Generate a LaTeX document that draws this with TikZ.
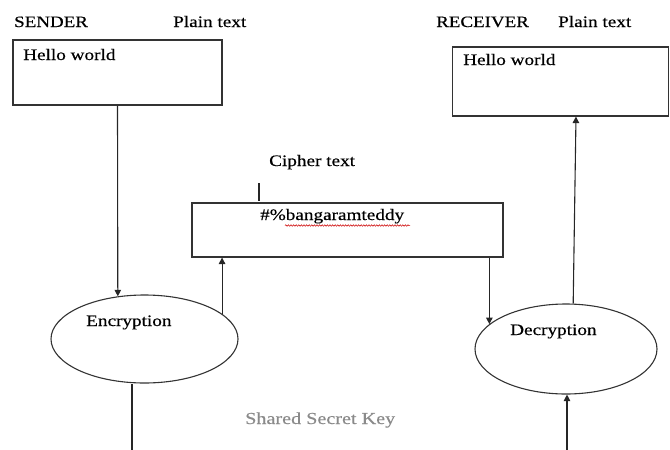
\documentclass[tikz,border=0pt]{standalone}
\usepackage{fontspec}
\setmainfont{Liberation Serif}[FakeStretch=1.2, FakeBold=0.4]
\usetikzlibrary{shapes.geometric,arrows.meta,decorations.pathmorphing}
\definecolor{edge}{HTML}{333333}
\definecolor{keygray}{HTML}{8A8A8A}
\tikzset{
  txt/.style={inner sep=0pt, anchor=base west, font=\fontsize{16}{19}\selectfont},
  head/.style={inner sep=0pt, anchor=base west, font=\fontsize{15.8}{18}\selectfont},
  msgbox/.style={draw=edge, line width=1.1pt, rectangle, inner sep=0pt},
  proc/.style={draw=edge, line width=1.1pt, ellipse, inner sep=0pt},
  arr/.style={draw=black!85, line width=1.1pt, -{Triangle[length=6.5pt,width=6.5pt]}},
  plain/.style={draw=black!85, line width=1.1pt},
}
\begin{document}
\begin{tikzpicture}[x=1pt, y=-1pt]
\useasboundingbox (0,0) rectangle (670,450);

% headings
\node[head] (sender) at (14,27) {SENDER};
\node[txt]  (ptl) at (173,27) {Plain text};
\node[head] (receiver) at (436,27) {RECEIVER};
\node[txt]  (ptr) at (558,27) {Plain text};

% plain text boxes
\node[msgbox, minimum width=209pt, minimum height=65pt] (box1) at (117.5,72.5) {};
\node[txt] (hw1) at (23,60) {Hello world};
\node[msgbox, minimum width=216pt, minimum height=69pt] (box3) at (560.5,81.5) {};
\node[txt] (hw2) at (463,65) {Hello world};

% cipher text box
\node[txt] (ct) at (269,166) {Cipher text};
\coordinate (tickA) at (259,183);
\coordinate (tickB) at (259,201);
\draw[plain] (tickA) -- (tickB);
\node[msgbox, minimum width=311pt, minimum height=54pt] (box2) at (347.5,230) {};
\node[txt] (cipher) at (260,220) {\#\%bangaramteddy};
\coordinate (wavyA) at (285,225.5);
\coordinate (wavyB) at (410,225.5);
\draw[red!80!black, line width=0.5pt, decorate,
      decoration={snake, amplitude=0.8pt, segment length=2.6pt}] (wavyA) -- (wavyB);

% encryption / decryption
\node[proc, minimum width=187pt, minimum height=88pt] (enc) at (144.5,339) {};
\node[txt] (enct) at (86,326) {Encryption};
\node[proc, minimum width=182pt, minimum height=90pt] (dec) at (566,349) {};
\node[txt] (dect) at (510,335) {Decryption};

% shared key
\node[txt, text=keygray, font=\fontsize{16.8}{19}\selectfont] (key) at (245,424) {Shared Secret Key};
\coordinate (keyL) at (132,450);
\coordinate (keyR) at (567,450);

% connectors
\draw[arr] (box1.south) -- (enc.122.7);
\draw[arr] (enc.18.3) -- (enc.18.3 |- box2.south);
\draw[arr] (dec.162 |- box2.south) -- (dec.162);
\draw[arr] (dec.81.1) -- ([xshift=15.5pt]box3.south);
\draw[plain] (keyL |- enc.south) -- (keyL);
\draw[arr] (keyR) -- (keyR |- dec.south);
\end{tikzpicture}
\end{document}
